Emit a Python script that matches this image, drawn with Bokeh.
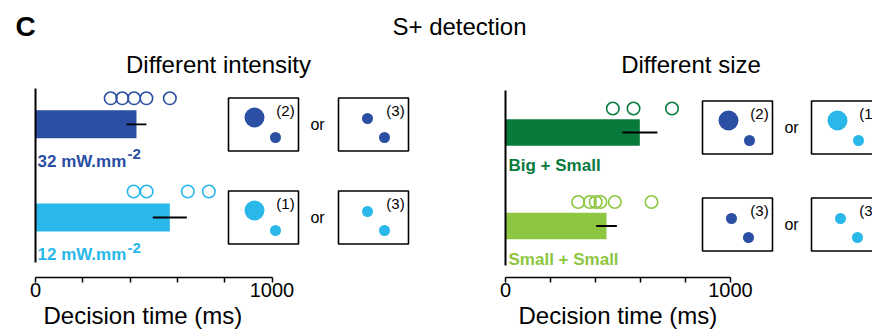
from bokeh.plotting import figure
from bokeh.models import Range1d, FixedTicker, Title
from bokeh.layouts import column, row
from bokeh.core.properties import value
from bokeh.embed import file_html
from bokeh.resources import INLINE

FONT = "Liberation Sans"
DARK_BLUE = "#2a4fa3"
LIGHT_BLUE = "#2ab7ea"
DARK_GREEN = "#087b3c"
LIGHT_GREEN = "#8dc640"

# ---------------- data: decision times (ms) ----------------
intensity_groups = ["32 mW.mm", "12 mW.mm"]
intensity_mean = [427, 568]
intensity_sem = [42, 72]
intensity_points = [[318, 367, 417, 469, 568], [415, 470, 644, 733]]

size_groups = ["Big + Small", "Small + Small"]
size_mean = [597, 449]
size_sem = [78, 46]
size_points = [[477, 569, 740], [323, 375, 401, 422, 486, 649]]

tick_values = [0, 200, 400, 600, 800, 1000]
tick_text = {0: "0", 1000: "1000"}

# ---------------- page geometry (pixels) ----------------
W, H = 872, 336
HEAD_H = 42
PANEL_H = H - HEAD_H
FRAME_BOTTOM = 277          # y of the x axis line on the page
LEFT_W = 460

# dot layouts inside the stimulus boxes: (dx, dy, diameter)
BIG_SMALL = [(-9, -7, 20), (12, 13, 11)]
SMALL_SMALL = [(-6, -6, 11), (11, 13, 11)]


def draw_box(p, cx, cy, tag, dots, color):
    p.rect(x=[cx], y=[cy], width=70, height=53, x_range_name="px",
           fill_color=None, line_color="black", line_width=1.6)
    p.scatter(x=[cx + d[0] for d in dots], y=[cy + d[1] for d in dots],
              size=[d[2] for d in dots], marker="circle", x_range_name="px",
              fill_color=color, line_color=None)
    p.text(x=[cx + 22], y=[cy - 14.5], text=[tag], x_range_name="px",
           text_font=value(FONT), text_font_size="15px", text_color="black",
           text_align="center", text_baseline="middle")


def make_panel(width, border_left, frame_x0, px_per_ms, rows_y, bar_h, colors,
               groups, means, sems, points, dot_dy, label_dy, label_dx,
               spine, title, title_x, xlabel_shift):
    frame_w = width - border_left
    p = figure(width=width, height=PANEL_H,
               x_range=Range1d(0, frame_w / px_per_ms),
               y_range=Range1d(FRAME_BOTTOM, HEAD_H),
               output_backend="svg", toolbar_location=None,
               min_border_left=border_left, min_border_right=0,
               min_border_top=0, min_border_bottom=PANEL_H - (FRAME_BOTTOM - HEAD_H))
    p.extra_x_ranges = {"px": Range1d(frame_x0, frame_x0 + frame_w)}
    p.outline_line_color = None
    p.grid.visible = False
    p.background_fill_color = "white"
    p.border_fill_color = "white"

    xa = p.xaxis[0]
    xa.bounds = (0, 1000)
    xa.ticker = FixedTicker(ticks=tick_values)
    xa.major_label_overrides = {t: tick_text.get(t, "") for t in tick_values}
    xa.minor_tick_line_color = None
    xa.major_tick_in = 0
    xa.major_tick_out = 5
    xa.axis_line_width = 1.5
    xa.major_tick_line_width = 1.5
    xa.major_label_standoff = 0
    xa.major_label_text_font = FONT
    xa.major_label_text_font_size = "20px"
    xa.major_label_text_color = "black"

    # axis caption, left-aligned under the 0..1000 span
    p.add_layout(Title(text="Decision time (ms)", align="left", offset=xlabel_shift,
                       standoff=0, text_font=FONT, text_font_size="24px",
                       text_font_style="normal", text_color="black"), "below")

    ya = p.yaxis[0]
    ya.bounds = spine
    ya.ticker = FixedTicker(ticks=[])
    ya.major_tick_line_color = None
    ya.minor_tick_line_color = None
    ya.major_label_text_font_size = "0px"
    ya.axis_line_width = 2

    # bars, error bars and individual animals
    p.hbar(y=rows_y, left=0, right=means, height=bar_h,
           fill_color=colors, line_color=None)
    p.segment(x0=[m - s for m, s in zip(means, sems)],
              x1=[m + s for m, s in zip(means, sems)],
              y0=rows_y, y1=rows_y, line_color="black", line_width=1.8)
    for pts, yy, c in zip(points, rows_y, colors):
        p.scatter(x=pts, y=[yy + dot_dy] * len(pts), marker="circle", size=12.5,
                  fill_color=None, line_color=c, line_width=1.6)

    # group names under the bars
    p.text(x=[0, 0], y=[yy + label_dy for yy in rows_y], text=groups,
           x_offset=label_dx, text_font=value(FONT), text_font_size="17px",
           text_font_style="bold", text_color=colors,
           text_align="left", text_baseline="middle")

    p.text(x=[title_x], y=[63.5], text=[title], x_range_name="px",
           text_font=value(FONT), text_font_size="24px", text_color="black",
           text_align="center", text_baseline="middle")
    return p


# ---------------- left panel: light intensity ----------------
left = make_panel(LEFT_W, 35, 35, 0.2365, [123.8, 217], 28,
                  [DARK_BLUE, LIGHT_BLUE], intensity_groups, intensity_mean,
                  intensity_sem, intensity_points, -26, 37, 2,
                  (88, 262), "Different intensity", 218, 8)
left.text(x=[0, 0], y=[123.8 + 37, 217 + 37], text=["-2", "-2"], x_offset=92,
          y_offset=-7, text_font=value(FONT), text_font_size="15px",
          text_font_style="bold", text_color=[DARK_BLUE, LIGHT_BLUE],
          text_align="left", text_baseline="middle")
for cy, col, tags in [(124, DARK_BLUE, ["(2)", "(3)"]), (217, LIGHT_BLUE, ["(1)", "(3)"])]:
    draw_box(left, 263, cy, tags[0], BIG_SMALL, col)
    draw_box(left, 373, cy, tags[1], SMALL_SMALL, col)
    left.text(x=[317], y=[cy], text=["or"], x_range_name="px",
              text_font=value(FONT), text_font_size="16px", text_color="black",
              text_align="center", text_baseline="middle")

# ---------------- right panel: stimulus size ----------------
right = make_panel(W - LEFT_W, 505 - LEFT_W, 505, 0.225, [132, 225.5], 26.5,
                   [DARK_GREEN, LIGHT_GREEN], size_groups, size_mean, size_sem,
                   size_points, -24, 33, 3, (90, 265), "Different size", 690.5, 13)
draw_box(right, 737, 127, "(2)", BIG_SMALL, DARK_BLUE)
draw_box(right, 846, 127, "(1)", BIG_SMALL, LIGHT_BLUE)
draw_box(right, 737, 224, "(3)", SMALL_SMALL, DARK_BLUE)
draw_box(right, 846, 224, "(3)", SMALL_SMALL, LIGHT_BLUE)
for cy in (127, 224):
    right.text(x=[791], y=[cy], text=["or"], x_range_name="px",
               text_font=value(FONT), text_font_size="16px", text_color="black",
               text_align="center", text_baseline="middle")

# ---------------- header ----------------
head = figure(width=W, height=HEAD_H, x_range=Range1d(0, W), y_range=Range1d(HEAD_H, 0),
              x_axis_type=None, y_axis_type=None, output_backend="svg",
              toolbar_location=None, min_border=0)
head.outline_line_color = None
head.grid.visible = False
head.text(x=[25], y=[26], text=["C"], text_font=value(FONT), text_font_size="28px",
          text_font_style="bold", text_color="black",
          text_align="center", text_baseline="middle")
head.text(x=[459], y=[26], text=["S+ detection"], text_font=value(FONT),
          text_font_size="24px", text_color="black",
          text_align="center", text_baseline="middle")

page = column(head, row(left, right))
open("out.html", "w").write(file_html(page, INLINE))
